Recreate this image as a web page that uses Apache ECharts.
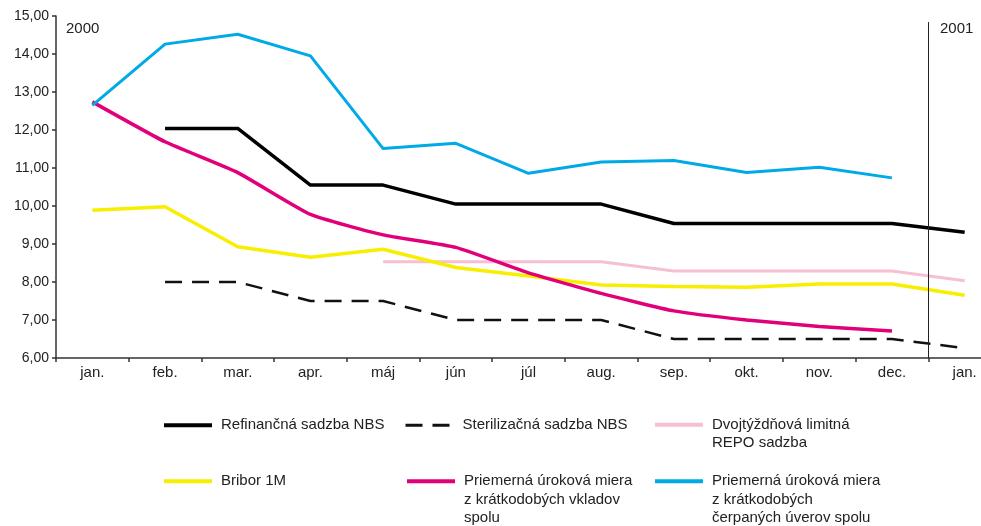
<!DOCTYPE html>
<html>
<head>
<meta charset="utf-8">
<script src="https://cdn.jsdelivr.net/npm/echarts@6/dist/echarts.min.js"></script>
<style>
  html, body { margin: 0; padding: 0; background: #fff; }
  #chart { width: 981px; height: 526px; }
</style>
</head>
<body>
<div id="chart"></div>
<script>
// mesiace 2000 + jan. 2001
var months = ['jan.', 'feb.', 'mar.', 'apr.', 'máj', 'jún', 'júl', 'aug.', 'sep.', 'okt.', 'nov.', 'dec.', 'jan.'];

var refinancna = [null, 12.04, 12.04, 10.55, 10.55, 10.05, 10.05, 10.05, 9.54, 9.54, 9.54, 9.54, 9.31];
var sterilizacna = [null, 8.0, 8.0, 7.5, 7.5, 7.0, 7.0, 7.0, 6.5, 6.5, 6.5, 6.5, 6.26];
var repo = [null, null, null, null, 8.53, 8.53, 8.53, 8.53, 8.29, 8.29, 8.29, 8.29, 8.03];
var bribor = [9.89, 9.98, 8.93, 8.65, 8.86, 8.38, 8.16, 7.92, 7.88, 7.86, 7.95, 7.95, 7.65];
var vklady = [12.74, 11.69, 10.88, 9.78, 9.24, 8.91, 8.24, 7.70, 7.24, 7.00, 6.83, 6.71, null];
var uvery = [12.65, 14.26, 14.52, 13.95, 11.51, 11.65, 10.86, 11.16, 11.20, 10.88, 11.02, 10.74, null];

// hranica rokov (za 12. mesiacom)
var yearBreak = 12;

var FONT = '"Liberation Sans", Arial, sans-serif';
var myChart = echarts.init(document.getElementById('chart'));

// legenda: ikona zarovnaná s prvým riadkom textu (prázdne riadky navrchu)
function legendAt(name, left, top, lines, lineWidth) {
    var pad = '';
    for (var i = 1; i < lines.length; i++) pad += '\n';
    return {
        data: [name],
        left: left,
        top: top,
        padding: 0,
        itemWidth: 48,
        itemHeight: 14,
        itemGap: 0,
        selectedMode: false,
        itemStyle: { color: 'transparent', borderWidth: 0, opacity: 0 },
        lineStyle: { width: lineWidth },
        formatter: function () { return pad + lines.join('\n'); },
        textStyle: {
            fontFamily: FONT,
            fontSize: 15,
            color: '#222',
            lineHeight: 18.5,
            padding: [0, 0, 0, 4]
        }
    };
}

function serie(name, data, color, width, type, smooth) {
    return {
        name: name,
        type: 'line',
        data: data,
        symbol: 'none',
        smooth: smooth || false,
        animation: false,
        lineStyle: { color: color, width: width, type: type || 'solid' },
        itemStyle: { color: color }
    };
}

var option = {
    backgroundColor: '#fff',
    animation: false,
    grid: {
        left: 56,
        top: 16,
        width: 945,
        height: 342,
        outerBoundsMode: 'none',
        containLabel: false
    },
    xAxis: [{
        type: 'category',
        data: months,
        boundaryGap: true,
        axisLine: { lineStyle: { color: '#333', width: 1.5 } },
        axisTick: { show: true, interval: 0, length: 4, lineStyle: { color: '#333', width: 1.5 } },
        axisLabel: { interval: 0, color: '#222', fontFamily: FONT, fontSize: 15, margin: 7 },
        splitLine: { show: false }
    }, {
        // pomocná os na deliacu čiaru rokov
        type: 'value',
        min: 0,
        max: months.length,
        show: false
    }],
    yAxis: {
        type: 'value',
        min: 6,
        max: 15,
        interval: 1,
        axisLine: { show: true, lineStyle: { color: '#333', width: 1.5 } },
        axisTick: { show: true, length: 4, lineStyle: { color: '#333', width: 1.5 } },
        axisLabel: {
            color: '#222',
            fontFamily: FONT,
            fontSize: 14,
            margin: 7,
            formatter: function (v) { return v.toFixed(2).replace('.', ','); }
        },
        splitLine: { show: false }
    },
    graphic: [
        { type: 'text', left: 66, top: 21, style: { text: '2000', fontFamily: FONT, fontSize: 15, fill: '#222' } },
        { type: 'text', left: 940, top: 21, style: { text: '2001', fontFamily: FONT, fontSize: 15, fill: '#222' } }
    ],
    legend: [
        legendAt('Refinančná sadzba NBS', 162, 416, ['Refinančná sadzba NBS'], 4),
        legendAt('Sterilizačná sadzba NBS', 404, 416, ['Sterilizačná sadzba NBS'], 3),
        legendAt('Dvojtýždňová limitná REPO sadzba', 653, 397, ['Dvojtýždňová limitná', 'REPO sadzba'], 4),
        legendAt('Bribor 1M', 162, 472, ['Bribor 1M'], 4),
        legendAt('Priemerná úroková miera z krátkodobých vkladov spolu', 405, 435,
            ['Priemerná úroková miera', 'z krátkodobých vkladov', 'spolu'], 4),
        legendAt('Priemerná úroková miera z krátkodobých čerpaných úverov spolu', 653, 435,
            ['Priemerná úroková miera', 'z krátkodobých', 'čerpaných úverov spolu'], 4)
    ],
    series: [
        serie('Dvojtýždňová limitná REPO sadzba', repo, '#f6bfd3', 3),
        serie('Bribor 1M', bribor, '#f7ee00', 3.5),
        serie('Sterilizačná sadzba NBS', sterilizacna, '#111', 2.5, [17, 10]),
        serie('Priemerná úroková miera z krátkodobých vkladov spolu', vklady, '#e2007a', 3.5, null, 0.15),
        serie('Refinančná sadzba NBS', refinancna, '#000', 3.5),
        serie('Priemerná úroková miera z krátkodobých čerpaných úverov spolu', uvery, '#00aae6', 3),
        {
            name: 'rok',
            type: 'line',
            xAxisIndex: 1,
            data: [],
            silent: true,
            markLine: {
                silent: true,
                symbol: 'none',
                animation: false,
                label: { show: false },
                lineStyle: { color: '#222', width: 1, type: 'solid' },
                data: [[{ coord: [yearBreak, 14.84] }, { coord: [yearBreak, 6] }]]
            }
        }
    ]
};

myChart.setOption(option);
</script>
</body>
</html>
